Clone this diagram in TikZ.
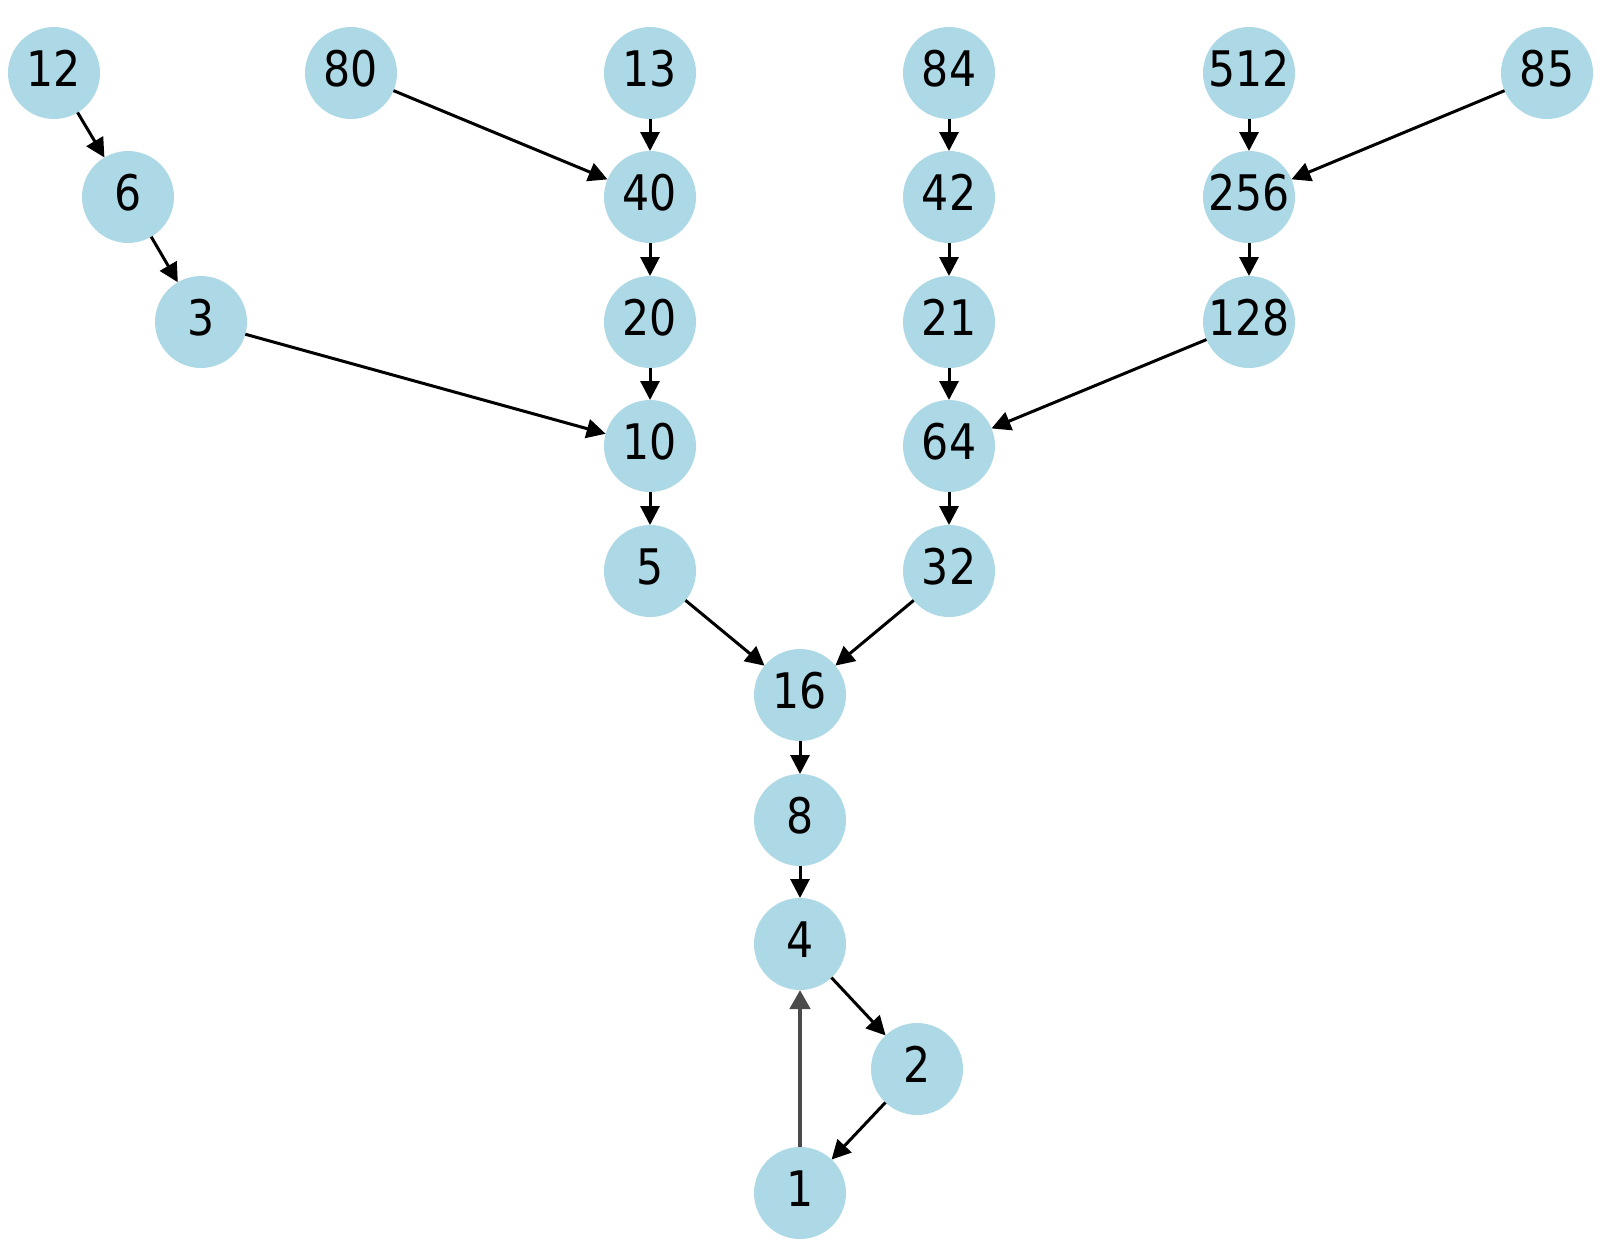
\documentclass[tikz,border=0pt]{standalone}
\usepackage{fontspec}
\setmainfont{DejaVu Sans}[FakeStretch=0.87]
\usetikzlibrary{arrows.meta}
\definecolor{nodeblue}{HTML}{ADD8E6}
\definecolor{edgegray}{HTML}{4A4A4A}
\tikzset{
  vtx/.style={circle,fill=nodeblue,minimum size=92pt,inner sep=0pt,outer sep=0pt,
    text height=36pt,text depth=10pt,font=\fontsize{49pt}{49pt}\selectfont},
  edge/.style={line width=3pt,draw=black,-{Triangle[length=19pt,width=19pt]}},
  backedge/.style={line width=4.5pt,draw=edgegray,-{Triangle[length=19pt,width=20pt]}}
}
\newcommand{\lbl}[1]{\makebox[0pt]{#1}}
\begin{document}
\begin{tikzpicture}[x=1pt,y=-1pt]
\useasboundingbox (0,0) rectangle (1623,1251);
\node[vtx] (n12) at (54,73) {\lbl{12}};
\node[vtx] (n6) at (128,197) {\lbl{6}};
\node[vtx] (n3) at (201,322) {\lbl{3}};
\node[vtx] (n80) at (351,73) {\lbl{80}};
\node[vtx] (n13) at (650,73) {\lbl{13}};
\node[vtx] (n40) at (650,197) {\lbl{40}};
\node[vtx] (n20) at (650,322) {\lbl{20}};
\node[vtx] (n10) at (650,446) {\lbl{10}};
\node[vtx] (n5) at (650,571) {\lbl{5}};
\node[vtx] (n16) at (800,695) {\lbl{16}};
\node[vtx] (n8) at (800,820) {\lbl{8}};
\node[vtx] (n4) at (800,944) {\lbl{4}};
\node[vtx] (n2) at (917,1069) {\lbl{2}};
\node[vtx] (n1) at (800,1193) {\lbl{1}};
\node[vtx] (n84) at (949,73) {\lbl{84}};
\node[vtx] (n42) at (949,197) {\lbl{42}};
\node[vtx] (n21) at (949,322) {\lbl{21}};
\node[vtx] (n64) at (949,446) {\lbl{64}};
\node[vtx] (n32) at (949,571) {\lbl{32}};
\node[vtx] (n512) at (1249,73) {\lbl{512}};
\node[vtx] (n256) at (1249,197) {\lbl{256}};
\node[vtx] (n128) at (1249,322) {\lbl{128}};
\node[vtx] (n85) at (1547,73) {\lbl{85}};
\draw[edge] (n12) -- (n6);
\draw[edge] (n6) -- (n3);
\draw[edge] (n3) -- (n10);
\draw[edge] (n80) -- (n40);
\draw[edge] (n13) -- (n40);
\draw[edge] (n40) -- (n20);
\draw[edge] (n20) -- (n10);
\draw[edge] (n10) -- (n5);
\draw[edge] (n5) -- (n16);
\draw[edge] (n84) -- (n42);
\draw[edge] (n42) -- (n21);
\draw[edge] (n21) -- (n64);
\draw[edge] (n64) -- (n32);
\draw[edge] (n32) -- (n16);
\draw[edge] (n512) -- (n256);
\draw[edge] (n85) -- (n256);
\draw[edge] (n256) -- (n128);
\draw[edge] (n128) -- (n64);
\draw[edge] (n16) -- (n8);
\draw[edge] (n8) -- (n4);
\draw[edge] (n4) -- (n2);
\draw[edge] (n2) -- (n1);
\draw[backedge] (n1) -- (n4);
\end{tikzpicture}
\end{document}
